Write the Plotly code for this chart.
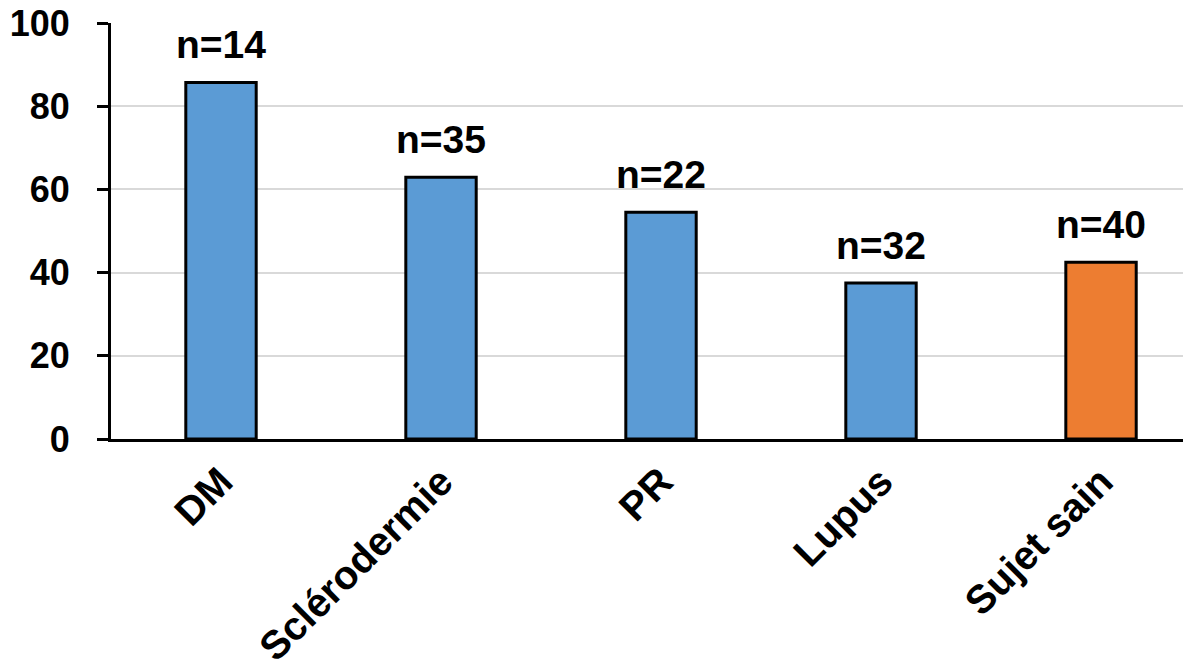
import plotly.graph_objects as go

categories = ["DM", "Sclérodermie", "PR", "Lupus", "Sujet sain"]
values = [85.7, 62.9, 54.5, 37.5, 42.5]
n_labels = ["n=14", "n=35", "n=22", "n=32", "n=40"]
colors = ["#5B9BD5", "#5B9BD5", "#5B9BD5", "#5B9BD5", "#ED7D31"]
y_ticks = [0, 20, 40, 60, 80, 100]

FONT = "Liberation Sans, Arial, sans-serif"

fig = go.Figure()
fig.add_trace(go.Bar(
    x=categories, y=values,
    marker=dict(color=colors, line=dict(color="black", width=3)),
    width=0.32,
    hoverinfo="skip",
))

for c, v, t in zip(categories, values, n_labels):
    fig.add_annotation(x=c, y=v, text=t, showarrow=False,
                       yanchor="bottom", yshift=14,
                       font=dict(family=FONT, size=39, color="black", weight="bold"))

fig.update_layout(
    width=1183, height=656,
    margin=dict(l=103, r=0, t=15, b=225, autoexpand=False),
    paper_bgcolor="white", plot_bgcolor="white",
    showlegend=False,
    font=dict(family=FONT, color="black"),
)
fig.update_xaxes(
    type="category", range=[-0.5, 4.409],
    tickangle=-45, tickfont=dict(family=FONT, size=40, color="black", weight="bold"),
    showline=True, linecolor="black", linewidth=3,
    ticks="", showgrid=False, automargin=False,
    ticklabeloverflow="allow",
)
fig.update_yaxes(
    range=[0, 100], tickvals=y_ticks,
    tickfont=dict(family=FONT, size=36, color="black", weight="bold"),
    showline=True, linecolor="black", linewidth=3,
    ticks="outside", ticklen=11, tickwidth=3, tickcolor="black",
    showgrid=True, gridcolor="#D9D9D9", gridwidth=2,
    zeroline=False, ticklabelstandoff=20, automargin=False,
    ticklabeloverflow="allow",
)

fig.write_html("out.html")
